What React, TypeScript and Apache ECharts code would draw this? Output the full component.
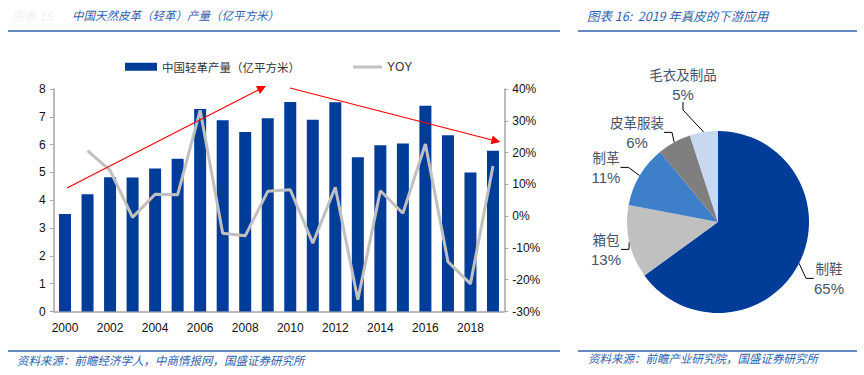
import React, { useEffect, useRef } from "react";
import * as echarts from "echarts";

const years = ["2000","2001","2002","2003","2004","2005","2006","2007","2008","2009","2010","2011","2012","2013","2014","2015","2016","2017","2018","2019"];
const production = [3.51,4.22,4.83,4.82,5.14,5.49,7.28,6.88,6.45,6.95,7.53,6.89,7.52,5.55,5.98,6.04,7.40,6.34,5.0,5.78];
const yoy = [null,20.6,14.4,-0.4,6.9,6.7,33.3,-5.4,-6.2,7.8,8.3,-8.5,9.1,-26.3,8.0,0.9,22.7,-14.3,-21.3,15.8];
const pieNames = ["制鞋","箱包","制革","皮革服装","毛衣及制品"];
const pieValues = [65,13,11,6,5];
const pieColors = ["#003d99","#c0c0c0","#3e7fca","#7f7f7f","#c6d9f1"];

const BLUE = "#2f62ad";
const AXIS = "#a6a6a6";
const LABEL_FONT = "Liberation Sans, Arial, sans-serif";
const CJK = "Noto Sans CJK SC, sans-serif";

// label block centres for the pie (layout only)
const pieLabelPos: [number, number][] = [
  [829, 278],
  [606, 249],
  [606, 167],
  [637, 132],
  [683, 84],
];

export default function App() {
  const ref = useRef<HTMLDivElement>(null);
  useEffect(() => {
    document.body.style.margin = "0";
    const chart = echarts.init(ref.current!, null, { renderer: "svg" });
    chart.setOption({
      animation: false,
      backgroundColor: "#ffffff",
      graphic: [
        { type: "text", left: 12, top: 9, style: { text: "图表 15:", fill: "#eef2f8", font: `italic 12px ${CJK}` } },
        { type: "text", left: 72, top: 9, style: { text: "中国天然皮革（轻革）产量（亿平方米）", fill: BLUE, font: `italic 11.5px ${CJK}` } },
        { type: "line", shape: { x1: 8, y1: 31, x2: 560, y2: 31 }, style: { stroke: BLUE, lineWidth: 1.5 } },
        { type: "text", left: 587, top: 9, style: { text: "图表 16:  2019 年真皮的下游应用", fill: BLUE, font: `italic 12.5px ${CJK}` } },
        { type: "line", shape: { x1: 578, y1: 31, x2: 857, y2: 31 }, style: { stroke: BLUE, lineWidth: 1.5 } },
        { type: "line", shape: { x1: 8, y1: 351, x2: 560, y2: 351 }, style: { stroke: BLUE, lineWidth: 1.5 } },
        { type: "line", shape: { x1: 578, y1: 351, x2: 857, y2: 351 }, style: { stroke: BLUE, lineWidth: 1.5 } },
        { type: "text", left: 17, top: 354, style: { text: "资料来源：前瞻经济学人，中商情报网，国盛证券研究所", fill: BLUE, font: `italic 11.5px ${CJK}` } },
        { type: "text", left: 588, top: 352, style: { text: "资料来源：前瞻产业研究院，国盛证券研究所", fill: BLUE, font: `italic 11.5px ${CJK}` } },
      ],
      legend: [
        {
          left: 120,
          top: 56,
          textStyle: { fontFamily: CJK, fontSize: 11.5, color: "#333" },
          data: [{ name: "中国轻革产量（亿平方米）", icon: "rect", itemStyle: { color: "#003d99" } }],
          itemWidth: 32,
          itemHeight: 8,
          itemGap: 3,
        },
        {
          left: 348,
          top: 56,
          textStyle: { fontFamily: LABEL_FONT, fontSize: 12, color: "#333" },
          data: [{ name: "YOY", icon: "rect", itemStyle: { color: "#c0c0c0" } }],
          itemWidth: 29,
          itemHeight: 3,
          itemGap: 3,
        },
      ],
      grid: { left: 53.75, right: 359.75, top: 89, bottom: 63.5 },
      xAxis: {
        type: "category",
        data: years,
        axisLine: { lineStyle: { color: AXIS, width: 1.5 } },
        axisTick: { inside: true, length: 4, lineStyle: { color: AXIS } },
        axisLabel: { interval: 1, color: "#111", fontFamily: LABEL_FONT, fontSize: 12, margin: 10 },
      },
      yAxis: [
        {
          type: "value", min: 0, max: 8, interval: 1,
          axisLine: { show: true, lineStyle: { color: AXIS, width: 1.5 } },
          axisTick: { show: true, length: 4, lineStyle: { color: AXIS } },
          axisLabel: { color: "#111", fontFamily: LABEL_FONT, fontSize: 12, margin: 8 },
          splitLine: { show: false },
        },
        {
          type: "value", min: -30, max: 40, interval: 10, position: "right",
          axisLine: { show: true, lineStyle: { color: AXIS, width: 1.5 } },
          axisTick: { show: true, length: 4, lineStyle: { color: AXIS } },
          axisLabel: { color: "#111", fontFamily: LABEL_FONT, fontSize: 12, margin: 8, formatter: "{value}%" },
          splitLine: { show: false },
        },
      ],
      series: [
        {
          name: "中国轻革产量（亿平方米）",
          type: "bar",
          data: production,
          barWidth: 12,
          itemStyle: { color: "#003d99" },
          markLine: {
            silent: true,
            symbol: ["none", "triangle"],
            symbolSize: [9, 9],
            lineStyle: { color: "#ff0000", width: 1.2, type: "solid" },
            label: { show: false },
            data: [
              [{ x: 67, y: 188 }, { x: 262, y: 88 }],
              [{ x: 290, y: 88 }, { x: 496, y: 141 }],
            ],
          },
        },
        {
          name: "YOY",
          type: "line",
          yAxisIndex: 1,
          data: yoy,
          symbol: "none",
          lineStyle: { color: "#c0c0c0", width: 3 },
          itemStyle: { color: "#c0c0c0" },
        },
        {
          name: "pie",
          type: "pie",
          center: [718, 222],
          radius: 91,
          startAngle: 90,
          clockwise: true,
          data: pieNames.map((n, i) => ({ name: n, value: pieValues[i], itemStyle: { color: pieColors[i] } })),
          label: {
            show: true,
            position: "outside",
            formatter: "{n|{b}}\n{p|{c}%}",
            color: "#44546a",
            rich: {
              n: { fontFamily: CJK, fontSize: 13.5, color: "#44546a", lineHeight: 21, align: "center" },
              p: { fontFamily: LABEL_FONT, fontSize: 15, color: "#44546a", lineHeight: 21, align: "center" },
            },
          },
          labelLine: { show: true, length: 10, length2: 8, lineStyle: { color: "#000", width: 1 } },
          labelLayout: (params: any) => {
            const p = pieLabelPos[params.dataIndex];
            return { x: p[0], y: p[1], align: "center", verticalAlign: "middle" };
          },
        },
      ],
    });
    return () => chart.dispose();
  }, []);
  return <div ref={ref} style={{ position: "fixed", left: 0, top: 0, width: 864, height: 375 }} />;
}
